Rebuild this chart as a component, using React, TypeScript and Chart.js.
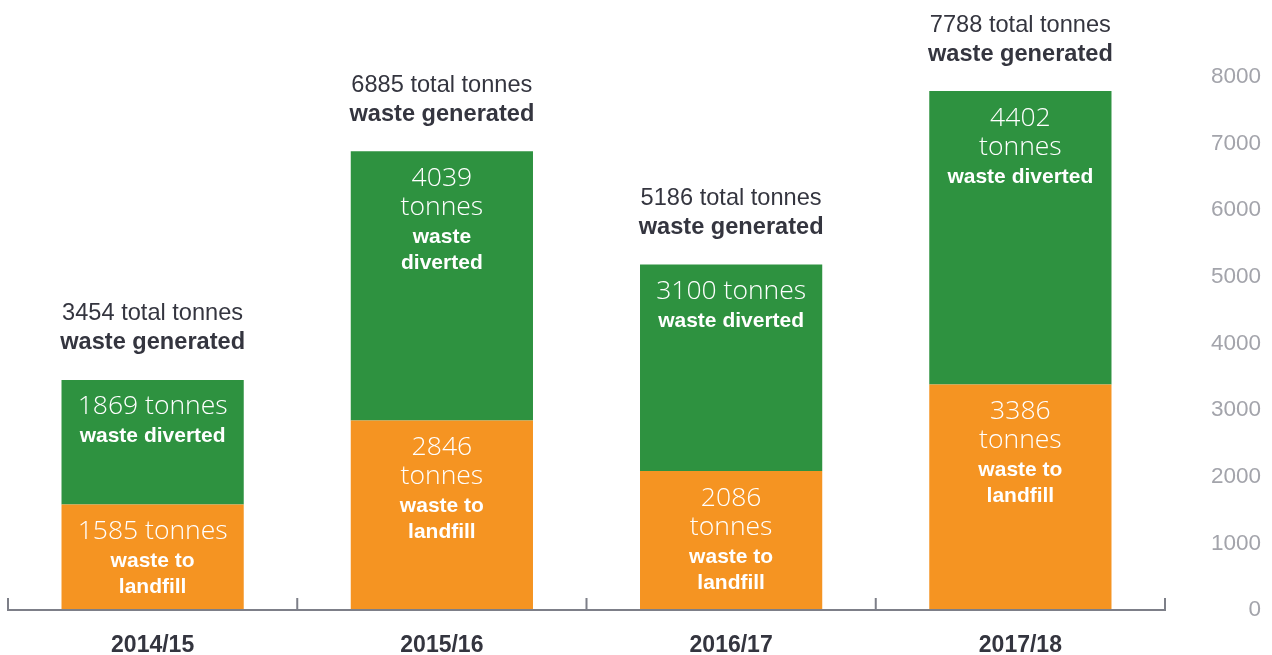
import React, { useEffect, useRef } from "react";
import { Chart, registerables } from "chart.js";

Chart.register(...registerables);

const categories = ["2014/15", "2015/16", "2016/17", "2017/18"];
const landfill = [1585, 2846, 2086, 3386];
const diverted = [1869, 4039, 3100, 4402];
const totals = [3454, 6885, 5186, 7788];
const yTicks = [0, 1000, 2000, 3000, 4000, 5000, 6000, 7000, 8000];

// Text lines inside bars: [number lines], [bold lines]
const landfillNumLines = [["1585 tonnes"], ["2846", "tonnes"], ["2086", "tonnes"], ["3386", "tonnes"]];
const landfillBoldLines = [["waste to", "landfill"], ["waste to", "landfill"], ["waste to", "landfill"], ["waste to", "landfill"]];
const divertedNumLines = [["1869 tonnes"], ["4039", "tonnes"], ["3100 tonnes"], ["4402", "tonnes"]];
const divertedBoldLines = [["waste diverted"], ["waste", "diverted"], ["waste diverted"], ["waste diverted"]];

const GREEN = "#2e9240";
const ORANGE = "#f59422";
const DARK = "#34353f";
const GREY = "#a3a4ab";
const AXIS = "#7d7f88";

const LIGHT_FONT = "300 26.5px 'Open Sans', 'Lato', sans-serif";
const BOLD_FONT = "bold 21px 'Liberation Sans', Arial, sans-serif";

const labelsPlugin = {
  id: "barLabels",
  afterDatasetsDraw(chart: any) {
    const ctx = chart.ctx;
    ctx.save();
    ctx.textAlign = "center";
    ctx.textBaseline = "middle";
    const segs = [
      { ds: 0, num: landfillNumLines, bold: landfillBoldLines },
      { ds: 1, num: divertedNumLines, bold: divertedBoldLines },
    ];
    segs.forEach((s) => {
      const meta = chart.getDatasetMeta(s.ds);
      meta.data.forEach((el: any, i: number) => {
        const top = Math.min(el.y, el.base);
        let y = top + 27;
        ctx.fillStyle = "#ffffff";
        ctx.font = LIGHT_FONT;
        s.num[i].forEach((t) => {
          ctx.fillText(t, el.x, y);
          y += 29.5;
        });
        ctx.font = BOLD_FONT;
        s.bold[i].forEach((t) => {
          ctx.fillText(t, el.x, y);
          y += 26;
        });
      });
    });
    // totals above
    const topMeta = chart.getDatasetMeta(1);
    topMeta.data.forEach((el: any, i: number) => {
      const top = Math.min(el.y, el.base);
      ctx.fillStyle = DARK;
      ctx.font = "23.6px 'Liberation Sans', Arial, sans-serif";
      ctx.fillText(`${totals[i]} total tonnes`, el.x, top - 66);
      ctx.font = "bold 23.6px 'Liberation Sans', Arial, sans-serif";
      ctx.fillText("waste generated", el.x, top - 37);
    });
    ctx.restore();
  },
  afterDraw(chart: any) {
    const ctx = chart.ctx;
    const xs = chart.scales.x;
    const ys = chart.scales.y;
    const y0 = ys.getPixelForValue(0);
    const n = categories.length;
    const step = (xs.right - xs.left) / n;
    ctx.save();
    ctx.strokeStyle = AXIS;
    ctx.lineWidth = 2;
    ctx.beginPath();
    ctx.moveTo(xs.left, y0);
    ctx.lineTo(xs.right, y0);
    for (let i = 0; i <= n; i++) {
      const x = xs.left + i * step;
      ctx.moveTo(x, y0 + 1);
      ctx.lineTo(x, y0 - 12);
    }
    ctx.stroke();
    ctx.restore();
  },
};

export default function App() {
  const ref = useRef<HTMLCanvasElement>(null);
  useEffect(() => {
    document.body.style.margin = "0";
    const chart = new Chart(ref.current as HTMLCanvasElement, {
      type: "bar",
      data: {
        labels: categories,
        datasets: [
          { label: "waste to landfill", data: landfill, backgroundColor: ORANGE, borderWidth: 0 },
          { label: "waste diverted", data: diverted, backgroundColor: GREEN, borderWidth: 0 },
        ],
      },
      options: {
        responsive: false,
        animation: false,
        events: [],
        layout: { padding: { left: 8, right: 11, top: 77, bottom: 0 } },
        datasets: { bar: { categoryPercentage: 1, barPercentage: 0.63 } },
        plugins: { legend: { display: false }, tooltip: { enabled: false } },
        scales: {
          x: {
            stacked: true,
            offset: true,
            grid: { display: false, drawTicks: false },
            border: { display: false },
            ticks: {
              color: DARK,
              padding: 22,
              font: { family: "'Liberation Sans', Arial, sans-serif", size: 23, weight: "bold" },
            },
            afterFit: (s: any) => {
              s.height = 45;
            },
          },
          y: {
            stacked: true,
            position: "right",
            min: 0,
            max: 8000,
            afterBuildTicks: (s: any) => {
              s.ticks = yTicks.map((v) => ({ value: v }));
            },
            grid: { display: false, drawTicks: false },
            border: { display: false },
            ticks: {
              color: GREY,
              crossAlign: "far",
              callback: (v: any) => String(v),
              font: { family: "'Liberation Sans', Arial, sans-serif", size: 22.5 },
            },
            afterFit: (s: any) => {
              s.width = 96;
            },
          },
        },
      },
      plugins: [labelsPlugin],
    });
    return () => chart.destroy();
  }, []);
  return <canvas ref={ref} width={1272} height={655} style={{ display: "block" }} />;
}
